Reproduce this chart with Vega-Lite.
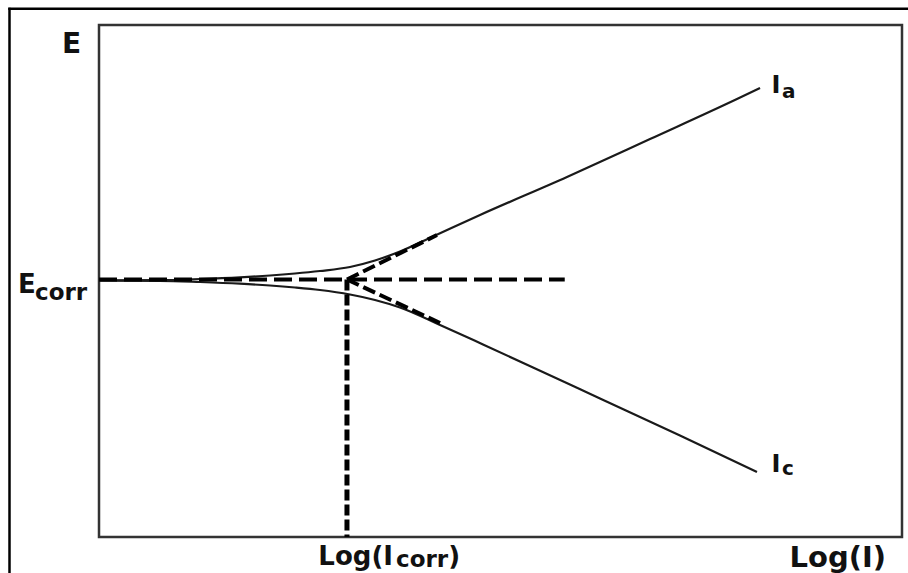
{
  "$schema": "https://vega.github.io/schema/vega-lite/v6.json",
  "autosize": {"type": "none"},
  "width": 803,
  "height": 512,
  "padding": {"left": 99, "top": 25, "right": 6, "bottom": 36},
  "background": "#ffffff",
  "config": {
    "view": {"stroke": "#333333", "strokeWidth": 2.5},
    "text": {"font": "DejaVu Sans", "fontWeight": "bold", "color": "#111111"}
  },
  "datasets": {
    "polarization": [
      {"branch": "anodic", "logI": 0.0, "E": 5.010},
      {"branch": "anodic", "logI": 0.760, "E": 5.016},
      {"branch": "anodic", "logI": 1.258, "E": 5.039},
      {"branch": "anodic", "logI": 1.756, "E": 5.072},
      {"branch": "anodic", "logI": 2.130, "E": 5.107},
      {"branch": "anodic", "logI": 2.441, "E": 5.146},
      {"branch": "anodic", "logI": 2.752, "E": 5.195},
      {"branch": "anodic", "logI": 3.126, "E": 5.273},
      {"branch": "anodic", "logI": 3.437, "E": 5.400},
      {"branch": "anodic", "logI": 3.748, "E": 5.576},
      {"branch": "anodic", "logI": 4.159, "E": 5.869},
      {"branch": "anodic", "logI": 4.745, "E": 6.289},
      {"branch": "anodic", "logI": 5.828, "E": 7.031},
      {"branch": "anodic", "logI": 6.862, "E": 7.773},
      {"branch": "anodic", "logI": 7.945, "E": 8.555},
      {"branch": "anodic", "logI": 8.232, "E": 8.770},
      {"branch": "cathodic", "logI": 0.0, "E": 5.010},
      {"branch": "cathodic", "logI": 0.760, "E": 5.004},
      {"branch": "cathodic", "logI": 1.258, "E": 4.980},
      {"branch": "cathodic", "logI": 1.756, "E": 4.947},
      {"branch": "cathodic", "logI": 2.130, "E": 4.912},
      {"branch": "cathodic", "logI": 2.441, "E": 4.873},
      {"branch": "cathodic", "logI": 2.752, "E": 4.824},
      {"branch": "cathodic", "logI": 3.126, "E": 4.736},
      {"branch": "cathodic", "logI": 3.437, "E": 4.629},
      {"branch": "cathodic", "logI": 3.748, "E": 4.482},
      {"branch": "cathodic", "logI": 4.247, "E": 4.141},
      {"branch": "cathodic", "logI": 4.782, "E": 3.760},
      {"branch": "cathodic", "logI": 5.405, "E": 3.311},
      {"branch": "cathodic", "logI": 6.239, "E": 2.705},
      {"branch": "cathodic", "logI": 7.235, "E": 1.982},
      {"branch": "cathodic", "logI": 8.194, "E": 1.270}
    ],
    "construction": [
      {"guide": "Ecorr", "x1": 0.0, "y1": 5.03, "x2": 5.80, "y2": 5.03},
      {"guide": "Icorr", "x1": 3.088, "y1": 5.03, "x2": 3.088, "y2": 0.0},
      {"guide": "anodic Tafel", "x1": 3.088, "y1": 5.03, "x2": 4.209, "y2": 5.898},
      {"guide": "cathodic Tafel", "x1": 3.088, "y1": 5.03, "x2": 4.247, "y2": 4.180}
    ],
    "one": [{}]
  },
  "layer": [
    {
      "data": {"name": "polarization"},
      "mark": {"type": "line", "interpolate": "monotone", "color": "#1a1a1a", "strokeWidth": 2.2},
      "encoding": {
        "x": {"field": "logI", "type": "quantitative", "scale": {"domain": [0, 10], "nice": false, "zero": false}, "axis": null},
        "y": {"field": "E", "type": "quantitative", "scale": {"domain": [0, 10], "nice": false, "zero": false}, "axis": null},
        "detail": {"field": "branch"}
      }
    },
    {
      "data": {"name": "construction"},
      "transform": [{"filter": "datum.guide === 'Ecorr'"}],
      "mark": {"type": "rule", "color": "#000000", "strokeWidth": 4, "strokeDash": [18, 7]},
      "encoding": {
        "x": {"field": "x1", "type": "quantitative"},
        "y": {"field": "y1", "type": "quantitative"},
        "x2": {"field": "x2"},
        "y2": {"field": "y2"}
      }
    },
    {
      "data": {"name": "construction"},
      "transform": [{"filter": "datum.guide === 'Icorr'"}],
      "mark": {"type": "rule", "color": "#000000", "strokeWidth": 5, "strokeDash": [11, 4]},
      "encoding": {
        "x": {"field": "x1", "type": "quantitative"},
        "y": {"field": "y1", "type": "quantitative"},
        "x2": {"field": "x2"},
        "y2": {"field": "y2"}
      }
    },
    {
      "data": {"name": "construction"},
      "transform": [{"filter": "datum.guide === 'anodic Tafel' || datum.guide === 'cathodic Tafel'"}],
      "mark": {"type": "rule", "color": "#000000", "strokeWidth": 4, "strokeDash": [13, 5]},
      "encoding": {
        "x": {"field": "x1", "type": "quantitative"},
        "y": {"field": "y1", "type": "quantitative"},
        "x2": {"field": "x2"},
        "y2": {"field": "y2"}
      }
    },
    {
      "data": {"name": "one"},
      "mark": {"type": "rule", "color": "#000000", "strokeWidth": 2.5},
      "encoding": {
        "x": {"datum": -1.13, "type": "quantitative"},
        "x2": {"datum": 10.1},
        "y": {"datum": 10.316, "type": "quantitative"}
      }
    },
    {
      "data": {"name": "one"},
      "mark": {"type": "rule", "color": "#000000", "strokeWidth": 2.5},
      "encoding": {
        "x": {"datum": -1.1146, "type": "quantitative"},
        "y": {"datum": 10.335, "type": "quantitative"},
        "y2": {"datum": -0.72}
      }
    },
    {
      "data": {"name": "one"},
      "mark": {"type": "text", "text": "E", "fontSize": 28, "align": "left", "baseline": "alphabetic"},
      "encoding": {"x": {"datum": -0.46, "type": "quantitative"}, "y": {"datum": 9.453, "type": "quantitative"}}
    },
    {
      "data": {"name": "one"},
      "mark": {"type": "text", "text": "E", "fontSize": 26, "align": "left", "baseline": "alphabetic"},
      "encoding": {"x": {"datum": -1.009, "type": "quantitative"}, "y": {"datum": 4.766, "type": "quantitative"}}
    },
    {
      "data": {"name": "one"},
      "mark": {"type": "text", "text": "corr", "fontSize": 23, "align": "left", "baseline": "alphabetic"},
      "encoding": {"x": {"datum": -0.797, "type": "quantitative"}, "y": {"datum": 4.629, "type": "quantitative"}}
    },
    {
      "data": {"name": "one"},
      "mark": {"type": "text", "text": "Log(I", "fontSize": 26, "align": "right", "baseline": "alphabetic"},
      "encoding": {"x": {"datum": 3.661, "type": "quantitative"}, "y": {"datum": -0.547, "type": "quantitative"}}
    },
    {
      "data": {"name": "one"},
      "mark": {"type": "text", "text": "corr", "fontSize": 23, "align": "left", "baseline": "alphabetic"},
      "encoding": {"x": {"datum": 3.699, "type": "quantitative"}, "y": {"datum": -0.586, "type": "quantitative"}}
    },
    {
      "data": {"name": "one"},
      "mark": {"type": "text", "text": ")", "fontSize": 26, "align": "left", "baseline": "alphabetic"},
      "encoding": {"x": {"datum": 4.35, "type": "quantitative"}, "y": {"datum": -0.547, "type": "quantitative"}}
    },
    {
      "data": {"name": "one"},
      "mark": {"type": "text", "text": "Log(I)", "fontSize": 29, "align": "right", "baseline": "alphabetic"},
      "encoding": {"x": {"datum": 9.801, "type": "quantitative"}, "y": {"datum": -0.586, "type": "quantitative"}}
    },
    {
      "data": {"name": "one"},
      "mark": {"type": "text", "text": "I", "fontSize": 24, "align": "left", "baseline": "alphabetic"},
      "encoding": {"x": {"datum": 8.375, "type": "quantitative"}, "y": {"datum": 8.672, "type": "quantitative"}}
    },
    {
      "data": {"name": "one"},
      "mark": {"type": "text", "text": "a", "fontSize": 20, "align": "left", "baseline": "alphabetic"},
      "encoding": {"x": {"datum": 8.506, "type": "quantitative"}, "y": {"datum": 8.574, "type": "quantitative"}}
    },
    {
      "data": {"name": "one"},
      "mark": {"type": "text", "text": "I", "fontSize": 24, "align": "left", "baseline": "alphabetic"},
      "encoding": {"x": {"datum": 8.375, "type": "quantitative"}, "y": {"datum": 1.270, "type": "quantitative"}}
    },
    {
      "data": {"name": "one"},
      "mark": {"type": "text", "text": "c", "fontSize": 20, "align": "left", "baseline": "alphabetic"},
      "encoding": {"x": {"datum": 8.506, "type": "quantitative"}, "y": {"datum": 1.211, "type": "quantitative"}}
    }
  ]
}
